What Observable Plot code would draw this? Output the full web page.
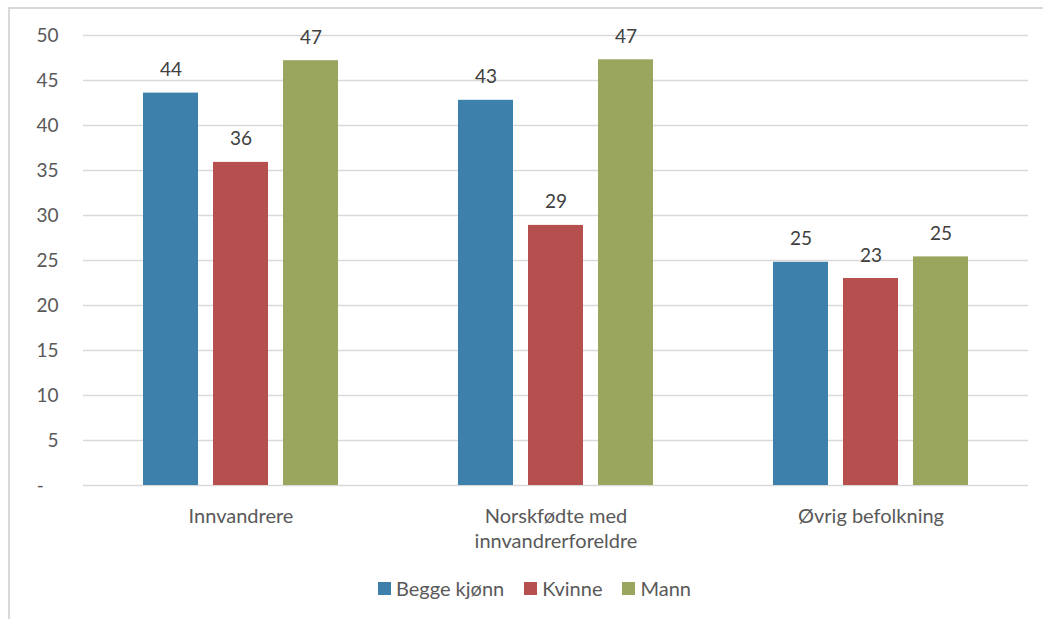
<!DOCTYPE html>
<html><head><meta charset="utf-8">
<script src="https://cdn.jsdelivr.net/npm/d3@7"></script>
<script src="https://cdn.jsdelivr.net/npm/@observablehq/plot@0.6"></script>
<style>
body{margin:0;background:#fff;overflow:hidden;font-family:Lato,"Open Sans",sans-serif;width:1043px;height:619px;}
#frame{position:absolute;left:8px;top:7px;width:1100px;height:700px;border-top:2px solid #d9d9d9;border-left:2px solid #d9d9d9;}
#chart{position:absolute;left:0;top:0;}
#legend{position:absolute;left:378px;top:577px;display:flex;align-items:center;font-size:20px;color:#595959;line-height:22px;}
#legend .item{display:flex;align-items:center;margin-right:20px;}
#legend .sw{width:13px;height:13px;margin-right:5px;}
</style></head><body>
<div id="frame"></div><div id="chart"></div><div id="legend"></div>
<script>
const groups = ["Innvandrere", "Norskfødte med\ninnvandrerforeldre", "Øvrig befolkning"];
const series = ["Begge kjønn", "Kvinne", "Mann"];
const colors = ["#3e80ac", "#b5504e", "#9aa55e"];
const beggeKjonn = [43.6, 42.8, 24.8];
const kvinne = [35.9, 28.9, 23.0];
const mann = [47.2, 47.3, 25.4];
const yTicks = [0, 5, 10, 15, 20, 25, 30, 35, 40, 45, 50];

const seriesValues = [beggeKjonn, kvinne, mann];
const rows = [];
groups.forEach((g, gi) => series.forEach((s, si) => rows.push({group: g, series: s, value: seriesValues[si][gi]})));

const plot = Plot.plot({
  width: 1043, height: 560,
  marginLeft: 82, marginRight: 15, marginTop: 35, marginBottom: 75,
  style: {fontFamily: "Lato, 'Open Sans', sans-serif", fontSize: "19px", color: "#595959", background: "transparent"},
  fx: {domain: groups, padding: 0, paddingInner: 0, paddingOuter: 0, label: null},
  x: {domain: series, paddingInner: 0.2143, paddingOuter: 0.857, axis: null},
  y: {domain: [0, 50]},
  color: {domain: series, range: colors},
  marks: [
    Plot.ruleY(yTicks, {y: d => d, stroke: "#d9d9d9", strokeWidth: 1.6}),
    Plot.barY(rows, {fx: "group", x: "series", y: "value", fill: "series"}),
    Plot.text(rows, {fx: "group", x: "series", y: "value", text: d => String(Math.round(d.value)), dy: -23, fill: "#404040", fontSize: 19}),
    Plot.axisY({ticks: yTicks, tickSize: 0, tickPadding: 25, fontSize: 19, label: null,
      tickFormat: d => d === 0 ? "-\u00a0\u00a0\u00a0" : String(d)}),
    Plot.axisFx({anchor: "bottom", tickSize: 0, tickPadding: 20, fontSize: 20, lineHeight: 1.25, label: null})
  ]
});
document.getElementById("chart").appendChild(plot);

const legend = document.getElementById("legend");
series.forEach((s, i) => {
  const item = document.createElement("div");
  item.className = "item";
  const sw = document.createElement("div");
  sw.className = "sw";
  sw.style.background = colors[i];
  const t = document.createElement("span");
  t.textContent = s;
  item.appendChild(sw); item.appendChild(t);
  legend.appendChild(item);
});
</script>
</body></html>
